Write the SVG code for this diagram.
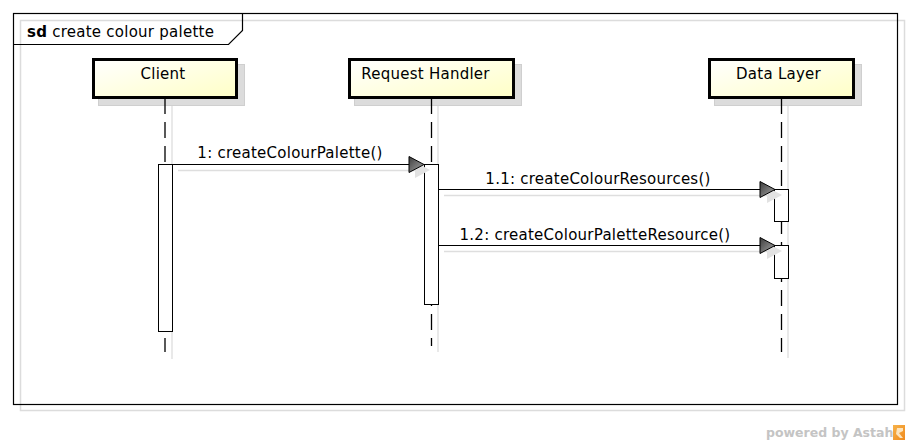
<svg xmlns="http://www.w3.org/2000/svg" width="910" height="444" viewBox="0 0 910 444">
<defs>
<linearGradient id="headFill" x1="0" y1="0" x2="1" y2="1">
<stop offset="0" stop-color="#ffffff"/>
<stop offset="1" stop-color="#ffffc6"/>
</linearGradient>
<linearGradient id="arrowFill" x1="0" y1="0" x2="1" y2="1">
<stop offset="0" stop-color="#3c3c3c"/>
<stop offset="1" stop-color="#a8a8a8"/>
</linearGradient>
<linearGradient id="logoFill" x1="0" y1="0" x2="1" y2="1">
<stop offset="0" stop-color="#f6b24a"/>
<stop offset="1" stop-color="#f08a1c"/>
</linearGradient>
</defs>
<style>
.txt{font-family:"DejaVu Sans","Liberation Sans",sans-serif;font-size:15px;fill:#000;letter-spacing:0.25px}
.head{fill:url(#headFill);stroke:#000;stroke-width:3}
.headShadow{fill:#dcdcdc;stroke:#cfcfcf;stroke-width:1}
.life{stroke:#000;stroke-width:1.3;stroke-dasharray:16 8;fill:none}
.lifeShadow{stroke:#e2e2e2;stroke-width:1.5;fill:none}
.act{fill:#fff;stroke:#000;stroke-width:1}
.msg{stroke:#000;stroke-width:1;fill:none}
.msgShadow{stroke:#dedede;stroke-width:1.5;fill:none}
.arrow{fill:url(#arrowFill);stroke:#000;stroke-width:1}
.arrowShadow{fill:#e2e2e2;stroke:none}
</style>
<rect x="0" y="0" width="910" height="444" fill="#fff"/>
<!-- frame -->
<g id="frame">
<rect x="20.5" y="20.5" width="884" height="390" fill="none" stroke="#dcdcdc" stroke-width="1.5"/>
<rect x="13.5" y="13.5" width="884" height="391" fill="none" stroke="#000" stroke-width="1.2"/>
<path d="M13.5,44.5 H228.5 L242.5,30.5 V13.5" fill="none" stroke="#000" stroke-width="1.2"/>
<text class="txt" x="27" y="37"><tspan font-weight="bold">sd</tspan> create colour palette</text>
</g>
<!-- lifelines -->
<g id="client">
<rect class="headShadow" x="98.5" y="64.5" width="146" height="41"/>
<line class="lifeShadow" x1="172" y1="106" x2="172" y2="359"/>
<line class="life" x1="165" y1="98" x2="165" y2="352"/>
<rect class="head" x="93.5" y="59.5" width="143" height="38"/>
<text class="txt" x="163" y="79" text-anchor="middle">Client</text>
<rect class="act" x="158.5" y="164.5" width="14" height="167"/>
</g>
<g id="request-handler">
<rect class="headShadow" x="354.5" y="64.5" width="167" height="41"/>
<line class="lifeShadow" x1="438" y1="106" x2="438" y2="352"/>
<line class="life" x1="431.5" y1="98" x2="431.5" y2="346"/>
<rect class="head" x="349.5" y="59.5" width="164" height="38"/>
<text class="txt" x="425.5" y="79" text-anchor="middle">Request Handler</text>
<rect class="act" x="424.5" y="164.5" width="14" height="140"/>
</g>
<g id="data-layer">
<rect class="headShadow" x="714.5" y="64.5" width="147" height="41"/>
<line class="lifeShadow" x1="788" y1="106" x2="788" y2="358"/>
<line class="life" x1="781.5" y1="98" x2="781.5" y2="352"/>
<rect class="head" x="709.5" y="59.5" width="144" height="38"/>
<text class="txt" x="778.5" y="79" text-anchor="middle">Data Layer</text>
<rect class="act" x="774.5" y="189.5" width="14" height="32"/>
<rect class="act" x="774.5" y="245.5" width="14" height="33"/>
</g>
<!-- messages -->
<g id="messages">
<line class="msgShadow" x1="178" y1="170.5" x2="416" y2="170.5"/>
<polygon class="arrowShadow" points="415,162 415,178 430,170"/>
<line class="msg" x1="172" y1="164.5" x2="409" y2="164.5"/>
<polygon class="arrow" points="409,156.5 409,172.5 424,164.5"/>
<text class="txt" x="290" y="158" text-anchor="middle">1: createColourPalette()</text>

<line class="msgShadow" x1="444" y1="195.5" x2="767" y2="195.5"/>
<polygon class="arrowShadow" points="767,187 767,203 782,195"/>
<line class="msg" x1="438" y1="189.5" x2="760" y2="189.5"/>
<polygon class="arrow" points="760,181.5 760,197.5 775,189.5"/>
<text class="txt" x="598" y="184" text-anchor="middle">1.1: createColourResources()</text>

<line class="msgShadow" x1="444" y1="251.5" x2="767" y2="251.5"/>
<polygon class="arrowShadow" points="767,243 767,259 782,251"/>
<line class="msg" x1="438" y1="245.5" x2="760" y2="245.5"/>
<polygon class="arrow" points="760,237.5 760,253.5 775,245.5"/>
<text class="txt" x="595" y="240" text-anchor="middle">1.2: createColourPaletteResource()</text>
</g>
<!-- watermark -->
<g id="watermark">
<text x="766" y="437" font-family="'DejaVu Sans','Liberation Sans',sans-serif" font-size="12.5" font-weight="bold" fill="#c4c4c4">powered by Astah</text>
<rect x="893" y="425" width="12" height="15" fill="url(#logoFill)"/>
<path d="M897,428 L903,428 L903,431 L899,433 L903,438 L900,438 L896,434 Z" fill="#fde4bc"/>
</g>
</svg>
